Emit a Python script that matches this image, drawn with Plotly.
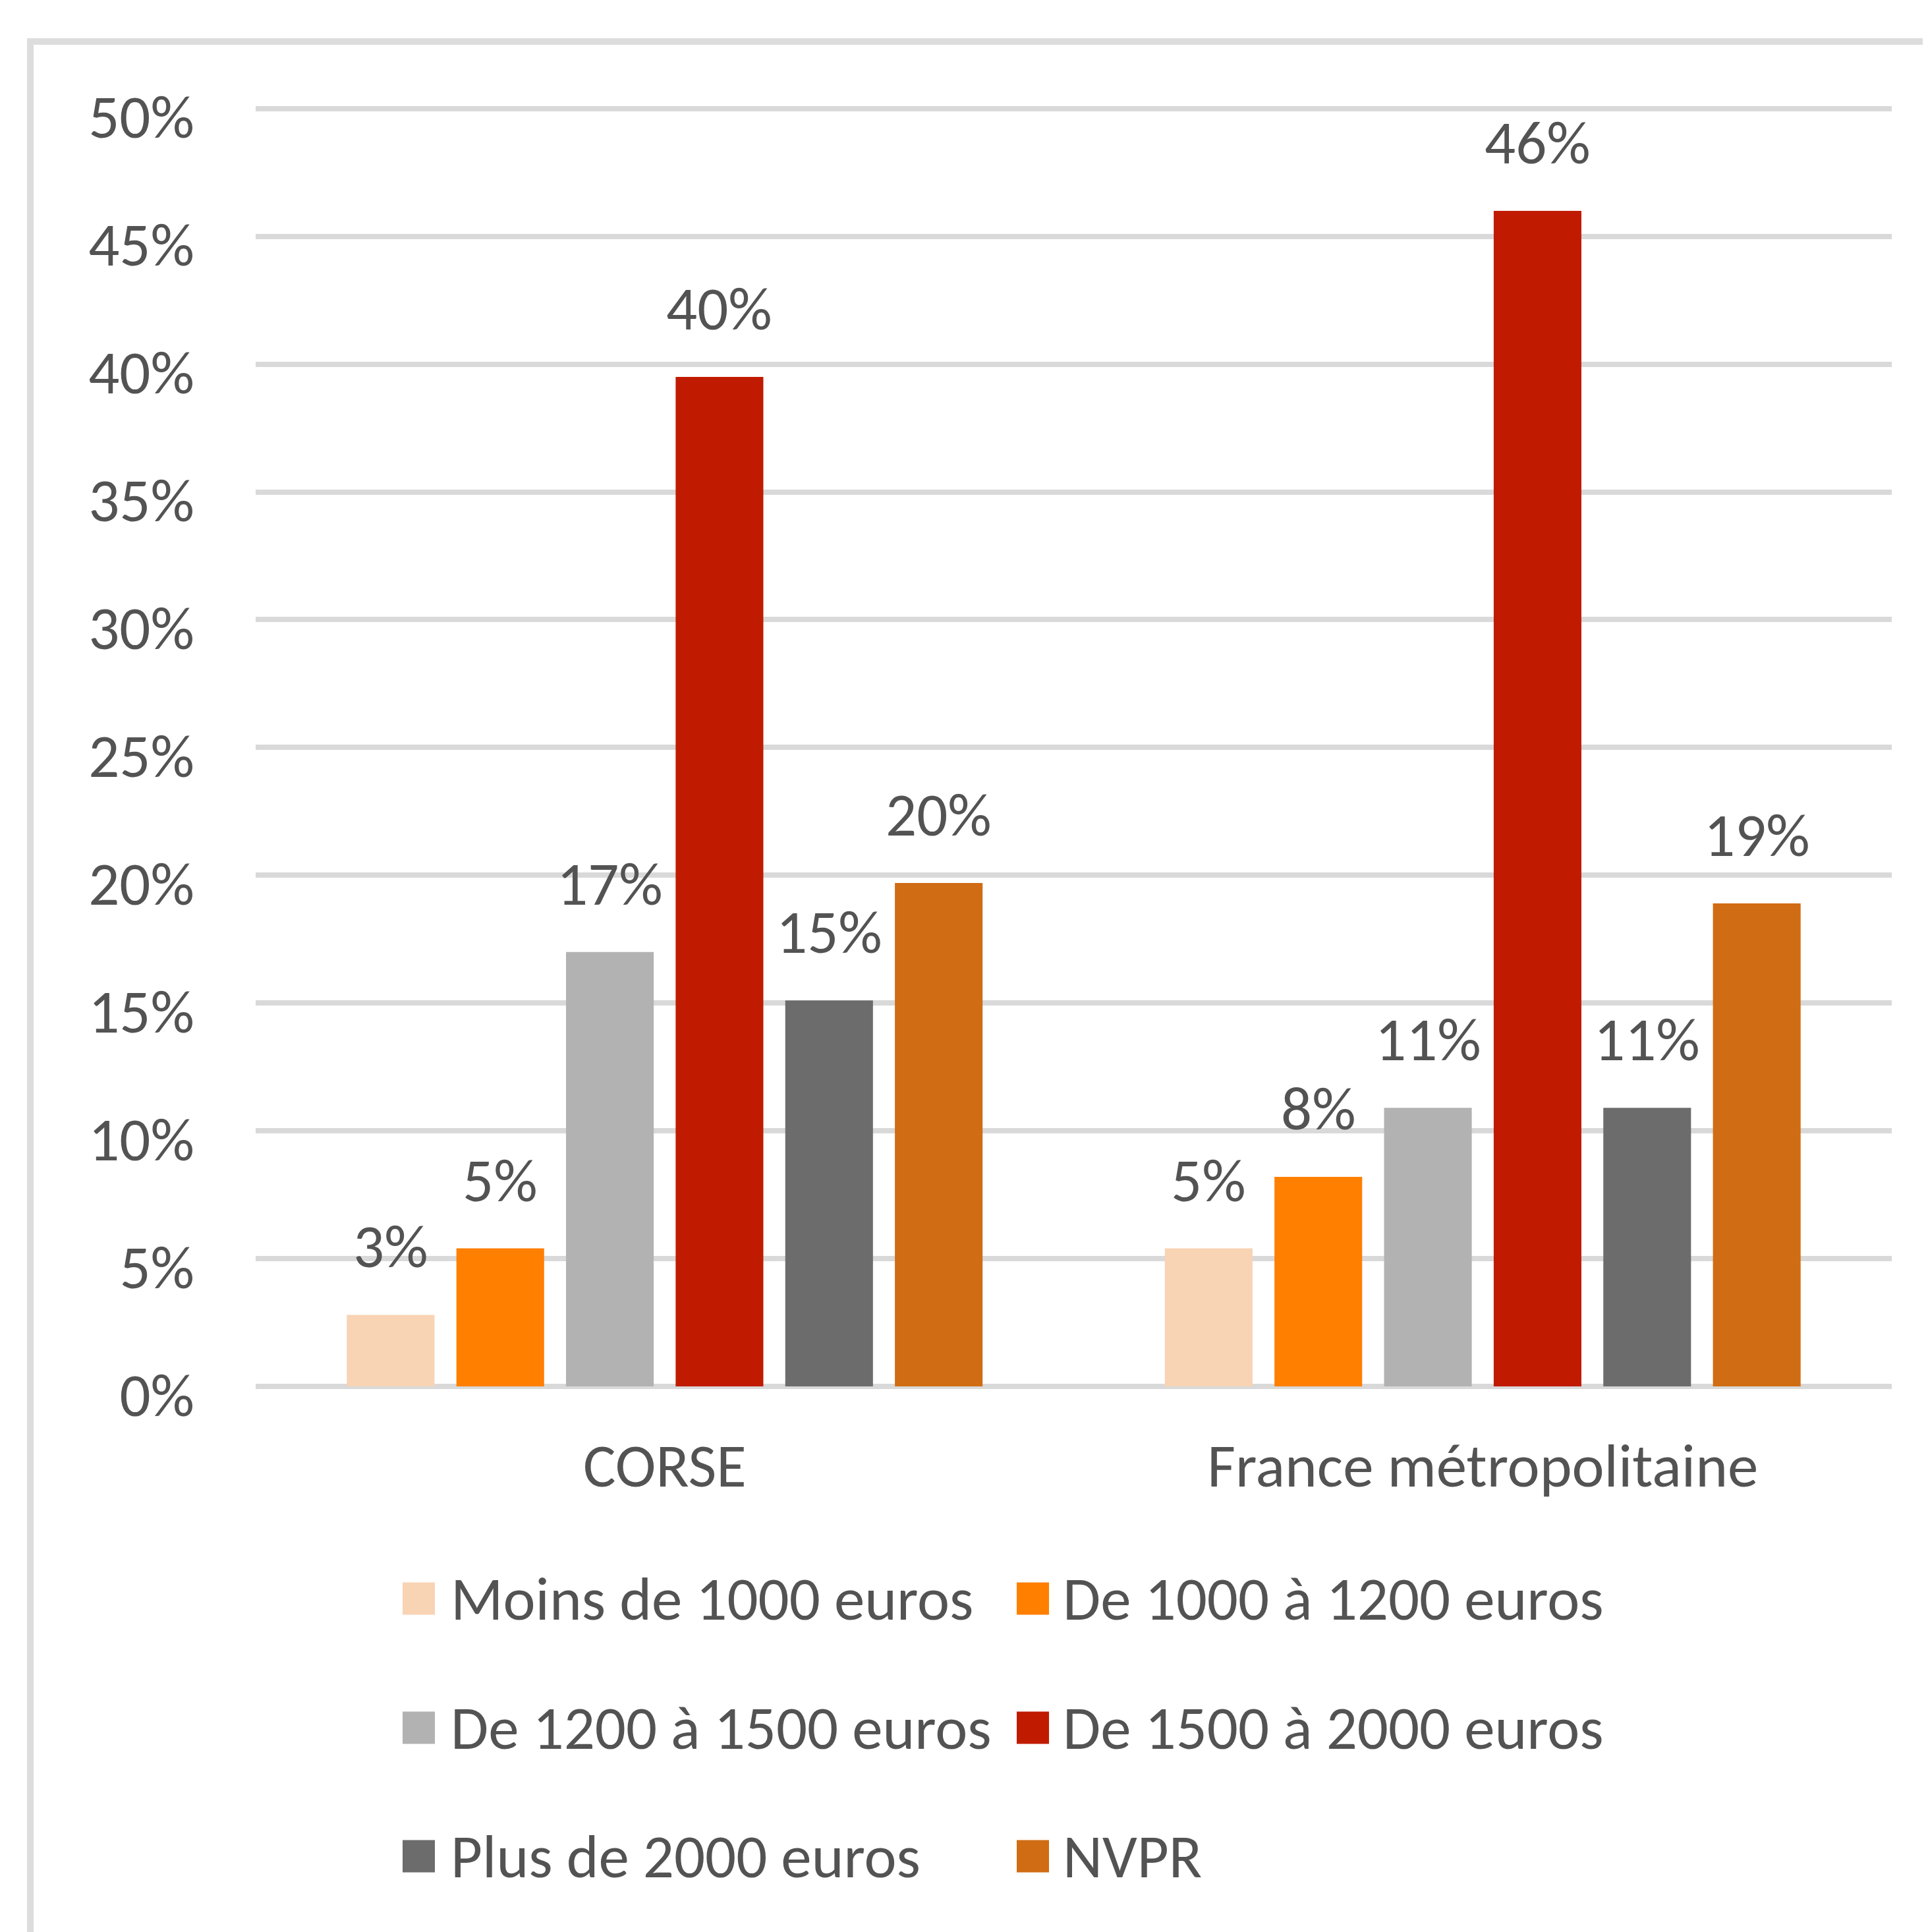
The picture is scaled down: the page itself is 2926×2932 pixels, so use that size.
import plotly.graph_objects as go

# ---------------- data ----------------
categories = ["CORSE", "France métropolitaine"]
series_names = [
    "Moins de 1000 euros",
    "De 1000 à 1200 euros",
    "De 1200 à 1500 euros",
    "De 1500 à 2000 euros",
    "Plus de 2000 euros",
    "NVPR",
]
corse_values = [0.028, 0.054, 0.170, 0.395, 0.151, 0.197]
france_values = [0.054, 0.082, 0.109, 0.460, 0.109, 0.189]
series_colors = ["#F8D3B4", "#FF7F00", "#B2B2B2", "#C01B00", "#6C6C6C", "#D06C14"]
y_tick_values = [0, 0.05, 0.10, 0.15, 0.20, 0.25, 0.30, 0.35, 0.40, 0.45, 0.50]

# ---------------- layout constants ----------------
W, H = 2926, 2932
Y_TOP = 0.502
ML, MR, MT, MB = 380, 63, 149, 836
PW, PH = W - ML - MR, H - MT - MB
FONT = "Carlito, Calibri, Lato, sans-serif"
TXT = "#535353"
GRID = "#D9D9D9"
FS = 93
BARGAP = 0.196
GROUPGAP = 0.2


def px_x(px):
    return (px - ML) / PW


def px_y(py):
    return (H - MB - py) / PH


fig = go.Figure()
values_by_series = [[c, f] for c, f in zip(corse_values, france_values)]
for name, vals, col in zip(series_names, values_by_series, series_colors):
    fig.add_trace(go.Bar(x=categories, y=vals, name=name, marker_color=col,
                         marker_line_width=0, showlegend=False))

# data labels above bars
n = len(series_names)
slot = (1 - BARGAP) / n
for j, vals in enumerate(values_by_series):
    for i, v in enumerate(vals):
        fig.add_annotation(x=i + (j - (n - 1) / 2) * slot, y=v, xref="x", yref="y",
                           text=f"{v:.0%}", showarrow=False, yanchor="middle", yshift=104,
                           font=dict(family=FONT, size=FS, color=TXT))

# legend (3 rows x 2 columns)
sw_left = [603, 1535]
txt_left = [674, 1603]
row_y = [2418, 2614, 2809]
sw = 49
for k, (name, col) in enumerate(zip(series_names, series_colors)):
    r, c = divmod(k, 2)
    yc = row_y[r]
    fig.add_shape(type="rect", xref="paper", yref="paper",
                  x0=px_x(sw_left[c]), x1=px_x(sw_left[c] + sw),
                  y0=px_y(yc + sw / 2), y1=px_y(yc - sw / 2),
                  fillcolor=col, line_width=0)
    fig.add_annotation(xref="paper", yref="paper", x=px_x(txt_left[c]), y=px_y(yc),
                       xanchor="left", yanchor="middle", text=name, showarrow=False,
                       font=dict(family=FONT, size=FS, color=TXT))

# outer chart border (left and top visible)
fig.add_shape(type="rect", xref="paper", yref="paper",
              x0=px_x(38), x1=px_x(W + 60), y0=px_y(H + 60), y1=px_y(55),
              line=dict(color="#DDDDDD", width=10), fillcolor="rgba(0,0,0,0)", layer="below")

fig.update_layout(
    width=W, height=H,
    margin=dict(l=ML, r=MR, t=MT, b=MB, autoexpand=False),
    paper_bgcolor="white", plot_bgcolor="white",
    barmode="group", bargap=BARGAP, bargroupgap=GROUPGAP,
    font=dict(family=FONT, size=FS, color=TXT),
    showlegend=False,
)
fig.update_xaxes(type="category", showgrid=False, showline=False, ticks="",
                 tickfont=dict(family=FONT, size=FS, color=TXT),
                 ticklabelstandoff=58, automargin=False)
fig.update_yaxes(range=[0, Y_TOP], tickvals=y_tick_values, tickformat=".0%",
                 showgrid=True, gridcolor=GRID, gridwidth=8,
                 zeroline=True, zerolinecolor=GRID, zerolinewidth=8,
                 showline=False, ticks="", ticklabelstandoff=92, ticklabelshift=12,
                 tickfont=dict(family=FONT, size=FS, color=TXT), automargin=False)

fig.write_html("out.html")
